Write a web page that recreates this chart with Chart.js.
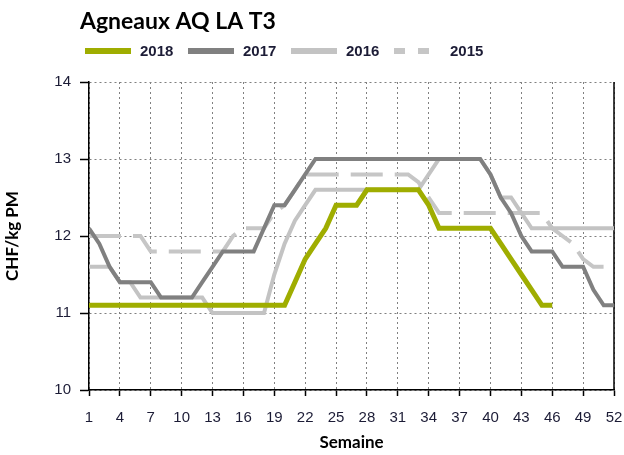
<!DOCTYPE html>
<html>
<head>
<meta charset="utf-8">
<script src="https://cdn.jsdelivr.net/npm/chart.js@4"></script>
<style>
  html, body { margin: 0; padding: 0; background: #fff; }
  #wrap { position: relative; width: 624px; height: 455px; }
</style>
</head>
<body>
<div id="wrap"><canvas id="chartAgneaux" width="624" height="455"></canvas></div>
<script>
// Prix hebdomadaires Agneaux AQ LA T3 (CHF/kg PM)
const weeks = [1, 2, 3, 4, 5, 6, 7, 8, 9, 10, 11, 12, 13, 14, 15, 16, 17, 18, 19, 20, 21, 22, 23, 24, 25, 26,
  27, 28, 29, 30, 31, 32, 33, 34, 35, 36, 37, 38, 39, 40, 41, 42, 43, 44, 45, 46, 47, 48, 49, 50, 51, 52];

const prix2018 = [11.1, 11.1, 11.1, 11.1, 11.1, 11.1, 11.1, 11.1, 11.1, 11.1, 11.1, 11.1, 11.1, 11.1, 11.1, 11.1, 11.1, 11.1, 11.1, 11.1,
  11.4, 11.7, 11.9, 12.1, 12.4, 12.4, 12.4, 12.6, 12.6, 12.6, 12.6, 12.6, 12.6, 12.4, 12.1, 12.1, 12.1, 12.1, 12.1, 12.1,
  11.9, 11.7, 11.5, 11.3, 11.1, 11.1];

const prix2017 = [12.1, 11.9, 11.6, 11.4, 11.4, 11.4, 11.4, 11.2, 11.2, 11.2, 11.2, 11.4, 11.6, 11.8, 11.8, 11.8, 11.8, 12.1, 12.4, 12.4,
  12.6, 12.8, 13.0, 13.0, 13.0, 13.0, 13.0, 13.0, 13.0, 13.0, 13.0, 13.0, 13.0, 13.0, 13.0, 13.0, 13.0, 13.0, 13.0, 12.8,
  12.5, 12.3, 12.0, 11.8, 11.8, 11.8, 11.6, 11.6, 11.6, 11.3, 11.1, 11.1];

const prix2016 = [11.6, 11.6, 11.6, 11.4, 11.4, 11.2, 11.2, 11.2, 11.2, 11.2, 11.2, 11.2, 11.0, 11.0, 11.0, 11.0, 11.0, 11.0, 11.5, 11.9,
  12.2, 12.4, 12.6, 12.6, 12.6, 12.6, 12.6, 12.6, 12.6, 12.6, 12.6, 12.6, 12.6, 12.8, 13.0, 13.0, 13.0, 13.0, 13.0, 12.8,
  12.5, 12.5, 12.3, 12.1, 12.1, 12.1, 12.1, 12.1, 12.1, 12.1, 12.1, 12.1];

const prix2015 = [12.0, 12.0, 12.0, 12.0, 12.0, 12.0, 11.8, 11.8, 11.8, 11.8, 11.8, 11.8, 11.8, 11.8, 12.0, 12.1, 12.1, 12.1, 12.3, 12.4,
  12.6, 12.8, 12.8, 12.8, 12.8, 12.8, 12.8, 12.8, 12.8, 12.8, 12.8, 12.8, 12.7, 12.5, 12.3, 12.3, 12.3, 12.3, 12.3, 12.3,
  12.3, 12.3, 12.3, 12.3, 12.3, 12.1, 12.0, 11.9, 11.7, 11.6, 11.6, 11.6];

const yTicks = [10, 11, 12, 13, 14];

const TXT = "#1c1c36";
const SANS = "'Liberation Sans', Arial, sans-serif";
const TITLE_FONT = "Lato, 'Open Sans', sans-serif";

function toPoints(values) {
  return values.map((v, i) => ({ x: weeks[i], y: v }));
}

function serie(label, values, color, width, dash, legendDash) {
  return {
    label: label,
    data: toPoints(values),
    borderColor: color,
    backgroundColor: color,
    borderWidth: width,
    borderDash: dash,
    legendDash: legendDash,
    pointRadius: 0,
    pointHoverRadius: 0,
    tension: 0,
    fill: false,
  };
}

// titre, légende et cadre droit
const decor = {
  id: "decor",
  beforeDatasetsDraw(chart) {
    const { ctx, chartArea: a } = chart;
    ctx.save();
    ctx.strokeStyle = "#000";
    ctx.lineWidth = 1.5;
    ctx.beginPath();
    ctx.moveTo(a.right, a.top);
    ctx.lineTo(a.right, a.bottom);
    ctx.stroke();
    ctx.restore();
  },
  afterDraw(chart) {
    const ctx = chart.ctx;
    ctx.save();
    ctx.fillStyle = "#000";
    ctx.font = "bold 23px " + TITLE_FONT;
    ctx.textBaseline = "alphabetic";
    ctx.fillText("Agneaux AQ LA T3", 80, 29);

    const xs = [85, 188, 291, 394];
    const y = 51;
    chart.data.datasets.forEach((ds, i) => {
      const x = xs[i];
      ctx.strokeStyle = ds.borderColor;
      ctx.lineWidth = 6;
      ctx.setLineDash(ds.legendDash || []);
      ctx.beginPath();
      ctx.moveTo(x, y);
      ctx.lineTo(x + 46, y);
      ctx.stroke();
      ctx.setLineDash([]);
      ctx.fillStyle = TXT;
      ctx.font = "bold 15px " + SANS;
      ctx.textBaseline = "middle";
      ctx.fillText(ds.label, x + (i === 3 ? 56 : 55), y + 1);
    });
    ctx.restore();
  },
};

new Chart(document.getElementById("chartAgneaux"), {
  type: "line",
  data: {
    datasets: [
      serie("2018", prix2018, "#9fad00", 5, [], []),
      serie("2017", prix2017, "#808080", 4, [], []),
      serie("2016", prix2016, "#c3c3c3", 4, [], []),
      serie("2015", prix2015, "#c6c6c6", 4, [32, 12], [11, 13]),
    ],
  },
  options: {
    responsive: false,
    animation: false,
    layout: { padding: { top: 82, right: 10, left: 0, bottom: 0 } },
    plugins: {
      legend: { display: false },
      tooltip: { enabled: false },
    },
    scales: {
      x: {
        type: "linear",
        min: 1,
        max: 52,
        ticks: { stepSize: 3, color: TXT, font: { family: SANS, size: 15 }, padding: 13, maxRotation: 0 },
        grid: { color: "#808080", lineWidth: 1, tickLength: 6, tickColor: "#000", tickWidth: 1.5 },
        border: { color: "#000", width: 1.5, dash: [2, 3] },
        title: { display: true, text: "Semaine", color: "#000", font: { family: TITLE_FONT, size: 17, weight: "bold" }, padding: { top: 0, bottom: 2 } },
        afterFit(scale) {
          scale.height = 65;
          scale.paddingLeft = 0;
          scale.paddingRight = 0;
        },
      },
      y: {
        min: 10,
        max: 14,
        afterBuildTicks(scale) { scale.ticks = yTicks.map((v) => ({ value: v })); },
        ticks: { color: TXT, font: { family: SANS, size: 15 }, padding: 9 },
        grid: { color: "#808080", lineWidth: 1, tickLength: 9, tickColor: "#000", tickWidth: 1.5 },
        border: { color: "#000", width: 1.5, dash: [2, 3] },
        title: { display: true, text: "CHF/kg PM", color: "#000", font: { family: TITLE_FONT, size: 17, weight: "bold" }, padding: { top: 2, bottom: 0 } },
        afterFit(scale) { scale.width = 89; },
      },
    },
  },
  plugins: [decor],
});
</script>
</body>
</html>
